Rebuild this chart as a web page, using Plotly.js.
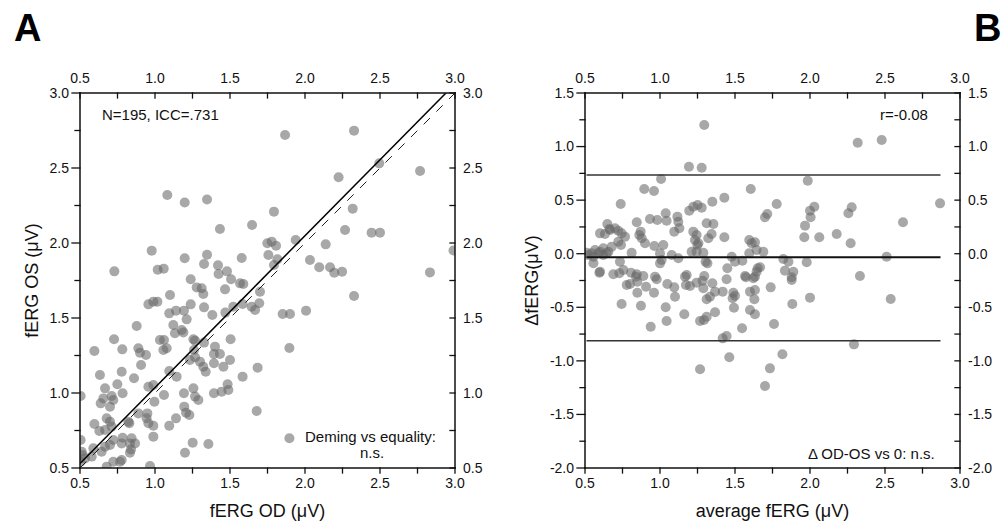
<!DOCTYPE html>
<html>
<head>
<meta charset="utf-8">
<script src="https://cdn.plot.ly/plotly-3.0.1.min.js"></script>
<style>
html,body{margin:0;padding:0;background:#fff}
#wrap{position:relative;width:1003px;height:526px;overflow:hidden;background:#fff}
#panelA{position:absolute;left:0;top:0;width:510px;height:526px}
#panelB{position:absolute;left:510px;top:0;width:493px;height:526px}
svg.frame{position:absolute;left:0;top:0;pointer-events:none;z-index:20}
</style>
</head>
<body>
<div id="wrap"><div id="panelA"></div><div id="panelB"></div></div>
<script>
// ---------- Panel A: fERG OD vs fERG OS ----------
const fergOD = [1.082,1.198,1.347,1.433,1.647,0.978,1.198,1.347,1.327,1.42,1.578,0.729,1.018,1.058,1.424,1.48,1.238,1.507,
1.867,2.327,2.495,2.767,2.224,2.318,1.793,2.267,2.444,2.5,1.749,1.778,1.807,1.938,2.138,1.756,1.816,1.793,2.033,2.095,2.167,2.195,2.247,2.833,
1.70,2.327,1.695,1.667,1.644,1.851,1.9,2.007,1.896,1.684,1.678,1.896,
1.278,1.311,1.322,1.467,1.567,1.589,1.1,0.956,0.989,1.016,1.238,1.327,1.382,1.469,1.522,1.584,1.095,1.14,1.193,1.211,0.878,1.122,1.133,1.178,1.189,
1.256,1.267,1.327,1.40,1.504,0.727,0.782,0.596,1.033,1.06,1.056,1.078,0.889,0.9,0.94,0.907,1.26,1.267,1.233,1.3,1.322,1.338,1.393,1.433,1.393,1.456,1.5,
0.633,0.778,0.86,1.095,1.144,0.956,0.989,0.996,1.06,0.667,0.749,0.784,0.656,0.638,0.711,0.722,0.7,0.504,1.193,1.256,1.267,1.289,1.393,1.444,1.489,1.484,1.584,
1.195,1.207,1.229,1.14,1.095,0.889,0.949,0.944,0.956,0.989,0.822,0.829,0.678,0.7,0.711,0.667,0.596,0.629,0.989,0.784,0.778,0.844,0.833,0.867,0.833,0.84,
0.722,0.7,0.644,0.667,0.504,0.589,0.578,0.511,0.518,0.533,0.504,0.778,0.767,0.722,0.967,1.251,1.356,1.2,0.678,2.99];
const fergOS = [2.32,2.27,2.29,2.093,2.12,1.949,1.898,1.922,1.86,1.851,1.90,1.811,1.822,1.829,1.793,1.811,1.758,1.758,
2.72,2.749,2.531,2.48,2.438,2.229,2.209,2.087,2.069,2.069,1.998,2.009,1.982,2.02,1.991,1.92,1.891,1.853,1.887,1.838,1.838,1.802,1.809,1.804,
1.675,1.647,1.598,1.553,1.575,1.527,1.527,1.549,1.30,1.169,0.88,0.698,
1.704,1.698,1.66,1.691,1.731,1.727,1.653,1.591,1.609,1.609,1.591,1.571,1.52,1.536,1.575,1.593,1.531,1.549,1.549,1.491,1.447,1.453,1.398,1.42,1.404,
1.358,1.349,1.336,1.309,1.358,1.358,1.291,1.28,1.353,1.353,1.287,1.298,1.298,1.269,1.253,1.187,1.287,1.238,1.22,1.209,1.175,1.142,1.26,1.26,1.198,1.175,1.22,
1.12,1.142,1.098,1.147,1.109,1.042,1.053,0.942,0.987,1.031,1.058,0.998,0.964,0.931,0.98,0.953,0.909,0.98,0.998,1.031,0.976,0.953,0.998,1.009,1.02,1.058,1.109,
0.909,0.869,0.853,0.831,0.782,0.864,0.864,0.831,0.798,0.782,0.809,0.798,0.831,0.809,0.776,0.753,0.793,0.747,0.709,0.702,0.664,0.698,0.664,0.664,0.602,0.624,
0.687,0.653,0.609,0.642,0.687,0.631,0.576,0.609,0.587,0.564,0.542,0.553,0.542,0.542,0.513,0.669,0.66,0.602,0.509,1.95];

// Deming regression and line of equality
const demingIntercept = 0.024;
const demingSlope = 1.0123;
const equalityLine = [0.5, 3.0];

// ---------- Panel B: Bland-Altman ----------
const avgFERG = [1.295,1.193,1.278,1.007,0.895,0.96,1.605,0.738,0.933,0.982,1.038,1.044,1.116,1.122,1.195,1.222,1.251,1.278,1.349,1.429,
0.649,0.845,0.871,0.662,0.667,0.7,0.6,0.633,0.722,0.744,0.767,0.722,0.74,0.862,0.878,0.9,1.095,1.129,1.222,1.244,1.233,1.311,1.356,1.344,1.322,1.429,
1.595,1.611,1.633,0.622,0.567,0.544,0.511,0.522,0.556,0.556,0.589,0.6,0.622,0.644,0.656,0.678,0.811,0.962,1.022,1.0,1.011,1.0,1.078,1.122,
1.211,1.244,1.249,1.256,1.289,1.316,1.304,0.733,0.729,0.6,0.756,0.807,0.845,0.689,1.478,1.5,1.549,1.449,1.595,1.644,1.651,0.967,1.167,1.178,1.295,1.567,
2.318,2.478,1.985,1.778,2.867,1.7,1.715,2.029,2.0,2.004,2.278,2.256,2.62,1.967,1.962,2.062,2.178,2.271,1.689,1.822,1.856,1.978,2.511,1.667,1.644,1.633,
1.833,1.889,1.878,2.333,
0.596,0.84,0.889,0.849,0.8,0.778,0.978,1.049,1.095,1.1,0.849,0.907,0.96,0.744,0.873,0.938,1.038,1.044,1.162,1.2,1.173,1.244,1.289,1.284,1.349,1.367,
1.311,1.333,1.418,1.444,1.367,1.267,1.293,1.311,1.489,1.5,1.484,1.493,1.547,1.418,1.444,1.462,1.267,1.573,1.622,1.6,1.633,1.629,1.6,1.633,
1.878,1.738,1.882,2.0,2.538,1.76,2.293,1.816,1.733,1.7];
const deltaFERG = [1.201,0.812,0.803,0.697,0.604,0.585,0.604,0.464,0.324,0.315,0.377,0.308,0.346,0.299,0.401,0.439,0.455,0.43,0.485,0.523,
0.277,0.293,0.206,0.231,0.221,0.237,0.19,0.184,0.215,0.19,0.159,0.112,0.081,0.175,0.144,0.097,0.206,0.237,0.206,0.175,0.128,0.284,0.277,0.184,0.144,0.153,
0.128,0.097,0.106,0.05,0.035,0.004,0.009,-0.012,-0.028,-0.089,0.004,0.019,-0.012,0.004,0.019,0.066,0.009,0.072,0.081,0.004,-0.059,-0.09,-0.012,-0.043,
0.019,0.019,0.081,0.097,0.009,-0.09,-0.075,-0.075,-0.183,-0.168,-0.152,-0.177,-0.192,-0.192,-0.028,-0.075,-0.065,-0.136,0.004,0.035,-0.136,-0.214,-0.214,-0.199,-0.208,-0.208,
1.036,1.061,0.681,0.464,0.47,0.34,0.371,0.439,0.401,0.34,0.433,0.377,0.293,0.262,0.153,0.153,0.184,0.097,0.019,-0.049,-0.075,-0.08,-0.028,-0.127,-0.168,-0.215,
-0.158,-0.168,-0.22,-0.208,
-0.177,-0.214,-0.208,-0.261,-0.283,-0.292,-0.239,-0.283,-0.314,-0.401,-0.364,-0.308,-0.364,-0.469,-0.485,-0.681,-0.5,-0.628,-0.565,-0.301,-0.292,-0.27,-0.323,-0.252,-0.276,-0.354,
-0.425,-0.401,-0.354,-0.239,-0.547,-0.628,-0.619,-0.588,-0.364,-0.392,-0.416,-0.504,-0.696,-0.79,-0.768,-0.967,-1.079,-0.22,-0.229,-0.354,-0.338,-0.425,-0.525,-0.565,
-0.245,-0.314,-0.469,-0.41,-0.423,-0.656,-0.846,-0.939,-1.07,-1.235];

// Limits of agreement: upper, mean, lower
const upperLoA = 0.735;
const meanDiff = -0.034;
const lowerLoA = -0.812;
const loaRange = [0.51, 2.87];

// Tick labels and tick positions
const tickVals = [0.5, 1.0, 1.5, 2.0, 2.5, 3.0];
const tickText = ['0.5', '1.0', '1.5', '2.0', '2.5', '3.0'];
const minorVals = [0.75, 1.25, 1.75, 2.25, 2.75];
const bTickVals = [-2.0, -1.5, -1.0, -0.5, 0.0, 0.5, 1.0, 1.5];
const bTickText = ['-2.0', '-1.5', '-1.0', '-0.5', '0.0', '0.5', '1.0', '1.5'];
const bMinorVals = [-1.75, -1.25, -0.75, -0.25, 0.25, 0.75, 1.25];

// ---------- shared style ----------
const FONT = 'Liberation Sans, Arial, Helvetica, sans-serif';
const H = 526;
const domY = [1 - 468 / H, 1 - 93 / H];
const INK = '#111';
function mk() { return {size: 10, color: 'rgba(105,105,105,0.58)', line: {width: 0}}; }
function tf() { return {family: FONT, size: 14, color: INK}; }
function ttl() { return {family: FONT, size: 18, color: INK}; }
function ax(extra) {
  return Object.assign({showline: false, ticks: '', showgrid: false, zeroline: false, tickfont: tf(), fixedrange: true}, extra);
}
function frame(width, xdom, xr, yr, yv, yt, xTitle, yTitle) {
  return {
    width: width, height: H, margin: {l: 0, r: 0, t: 0, b: 0}, paper_bgcolor: '#fff', plot_bgcolor: '#fff', showlegend: false,
    font: {family: FONT, color: INK},
    xaxis: ax({domain: xdom, anchor: 'y', range: xr, tickmode: 'array', tickvals: tickVals, ticktext: tickText,
      ticklabelstandoff: 5, title: {text: xTitle, font: ttl(), standoff: 14}}),
    yaxis: ax({domain: domY, anchor: 'x', range: yr, tickmode: 'array', tickvals: yv, ticktext: yt,
      ticklabelstandoff: 10, title: {text: yTitle, font: ttl(), standoff: 6}}),
    xaxis2: ax({overlaying: 'x', anchor: 'y2', side: 'top', range: xr, tickmode: 'array', tickvals: tickVals, ticktext: tickText,
      ticklabelstandoff: 6}),
    yaxis2: ax({overlaying: 'y', anchor: 'x2', side: 'right', range: yr, tickmode: 'array', tickvals: yv, ticktext: yt,
      ticklabelstandoff: 7})
  };
}
function note(x, y, text, anchor) {
  return {xref: 'x', yref: 'y', x: x, y: y, xanchor: anchor, yanchor: 'middle', showarrow: false, text: text,
    font: {family: FONT, size: 15, color: INK}};
}
function panelLetter(x, anchor, text) {
  return {xref: 'paper', yref: 'paper', x: x, y: 1 - 28 / H, xanchor: anchor, yanchor: 'middle', showarrow: false,
    text: '<b>' + text + '</b>', font: {family: FONT, size: 38, color: '#000'}};
}
function carrier() { return {type: 'scatter', mode: 'markers', x: [], y: [], xaxis: 'x2', yaxis: 'y2', hoverinfo: 'skip'}; }

// Axis frame and tick marks, placed with the plot's own axis scales (l2p) once Plotly has laid it out
function drawFrame(gd, xMajor, xMinor, yMajor, yMinor) {
  const fl = gd._fullLayout;
  const xa = fl.xaxis, ya = fl.yaxis;
  const px = v => xa._offset + xa.l2p(v);
  const py = v => ya._offset + ya.l2p(v);
  const left = xa._offset, right = xa._offset + xa._length;
  const top = ya._offset, bottom = ya._offset + ya._length;
  const NS = 'http://www.w3.org/2000/svg';
  const svg = document.createElementNS(NS, 'svg');
  svg.setAttribute('class', 'frame');
  svg.setAttribute('width', fl.width);
  svg.setAttribute('height', fl.height);
  function seg(x1, y1, x2, y2, w) {
    const l = document.createElementNS(NS, 'line');
    l.setAttribute('x1', x1); l.setAttribute('y1', y1); l.setAttribute('x2', x2); l.setAttribute('y2', y2);
    l.setAttribute('stroke', INK); l.setAttribute('stroke-width', w); l.setAttribute('stroke-linecap', 'square');
    svg.appendChild(l);
  }
  xMajor.concat(xMinor).forEach(function(v) {
    seg(px(v), bottom, px(v), bottom + 5, 1.3);      // bottom, outside
    seg(px(v), top, px(v), top + 5, 1.3);            // top, inside
  });
  yMajor.forEach(function(v) { seg(left, py(v), left - 8, py(v), 1.3); });   // left major, outside
  yMinor.forEach(function(v) { seg(left, py(v), left - 5, py(v), 1.3); });   // left minor, outside
  yMajor.concat(yMinor).forEach(function(v) { seg(right, py(v), right - 5, py(v), 1.3); });  // right, inside
  seg(left, top, right, top, 1.5);
  seg(left, bottom, right, bottom, 1.5);
  seg(left, top, left, bottom, 1.5);
  seg(right, top, right, bottom, 1.5);
  gd.appendChild(svg);
}

// ---------- Panel A ----------
const demX = [0.5, (3.0 - demingIntercept) / demingSlope];
const demY = demX.map(v => demingIntercept + demingSlope * v);
const WA = 510;
const layoutA = frame(WA, [80 / WA, 455 / WA], [0.5, 3.0], [0.5, 3.0], tickVals, tickText, 'fERG OD (μV)', 'fERG OS (μV)');
layoutA.annotations = [
  panelLetter(12 / WA, 'left', 'A'),
  note(0.633, 2.86, 'N=195, ICC=.731', 'left'),
  note(2.887, 0.713, 'Deming vs equality:', 'right'),
  note(2.447, 0.605, 'n.s.', 'center')
];
Plotly.newPlot('panelA', [
  {type: 'scatter', mode: 'markers', x: fergOD, y: fergOS, marker: mk()},
  {type: 'scatter', mode: 'lines', x: equalityLine, y: equalityLine, line: {color: '#222', width: 1, dash: 'dash'}},
  {type: 'scatter', mode: 'lines', x: demX, y: demY, line: {color: '#000', width: 1.5}},
  carrier()
], layoutA, {staticPlot: true, displayModeBar: false}).then(function(gd) {
  drawFrame(gd, tickVals, minorVals, tickVals, minorVals);
});

// ---------- Panel B ----------
const WB = 493;
const layoutB = frame(WB, [75 / WB, 450 / WB], [0.5, 3.0], [-2.0, 1.5], bTickVals, bTickText, 'average fERG (μV)', 'ΔfERG(μV)');
layoutB.annotations = [
  panelLetter(1, 'right', 'B'),
  note(2.8, 1.304, 'r=-0.08', 'right'),
  note(2.847, -1.869, 'Δ OD-OS vs 0: n.s.', 'right')
];
Plotly.newPlot('panelB', [
  {type: 'scatter', mode: 'markers', x: avgFERG, y: deltaFERG, marker: mk()},
  {type: 'scatter', mode: 'lines', x: loaRange, y: [upperLoA, upperLoA], line: {color: '#333', width: 1.6}},
  {type: 'scatter', mode: 'lines', x: loaRange, y: [meanDiff, meanDiff], line: {color: '#111', width: 2}},
  {type: 'scatter', mode: 'lines', x: loaRange, y: [lowerLoA, lowerLoA], line: {color: '#333', width: 1.6}},
  carrier()
], layoutB, {staticPlot: true, displayModeBar: false}).then(function(gd) {
  drawFrame(gd, tickVals, minorVals, bTickVals, bMinorVals);
});
</script>
</body>
</html>
